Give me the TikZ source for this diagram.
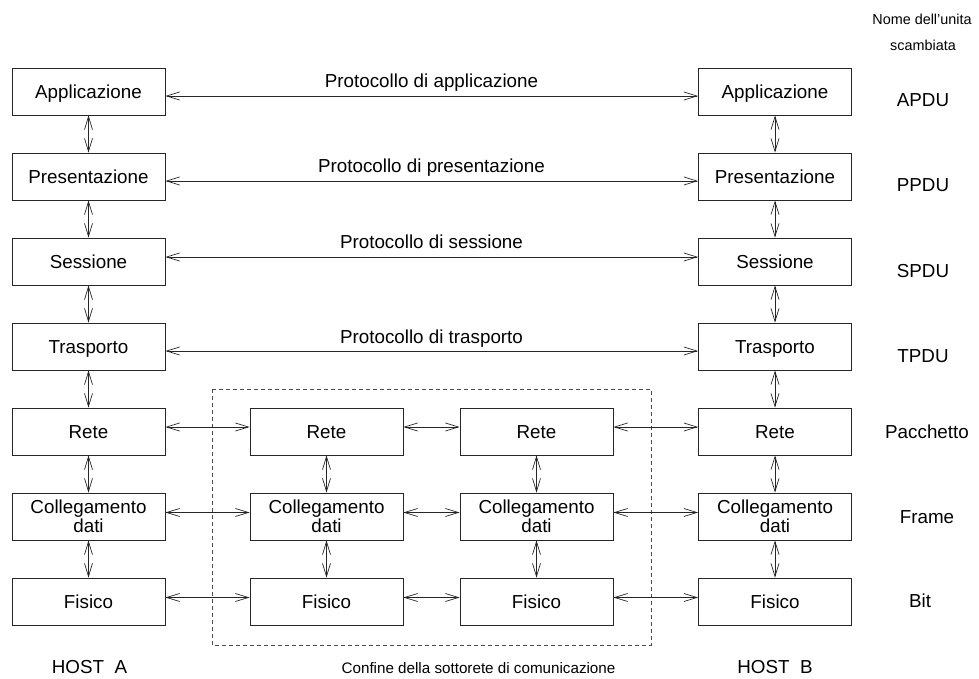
\documentclass[tikz,border=0pt]{standalone}
\usepackage{fontspec}
\setmainfont{Liberation Sans}
\usetikzlibrary{arrows.meta}
\begin{document}
\begin{tikzpicture}[x=1pt,y=-1pt,
  layer/.style={draw=black!85, line width=0.8pt, minimum width=153pt,
    minimum height=47pt, inner sep=0pt, font=\fontsize{18.8}{17.5}\selectfont,
    text height=13.5pt, text depth=0pt},
  layer2/.style={draw=black!85, line width=0.8pt, minimum width=153pt,
    minimum height=47pt, inner sep=0pt, font=\fontsize{18.8}{17.5}\selectfont,
    align=center},
  link/.style={draw=black!85, line width=0.7pt,
    {Straight Barb[length=13pt,width=8pt]}-{Straight Barb[length=13pt,width=8pt]}},
  lbl/.style={font=\fontsize{18.8}{20}\selectfont, inner sep=0pt, anchor=base},
  small/.style={font=\fontsize{14.4}{16}\selectfont, inner sep=0pt, anchor=base},
  frame/.style={draw=black!70, line width=0.7pt, dash pattern=on 4pt off 3pt}]
\useasboundingbox (0,0) rectangle (979,679);

% subnet boundary
\draw[frame] (212,389) rectangle (651,645);

% host A stack
\node[layer]  (a1) at (88.5,91.5)  {Applicazione};
\node[layer]  (a2) at (88.5,176.5) {Presentazione};
\node[layer]  (a3) at (88.5,261.5) {Sessione};
\node[layer]  (a4) at (88.5,346.5) {Trasporto};
\node[layer]  (a5) at (88.5,431.5) {Rete};
\node[layer2] (a6) at (88.5,516.5) {Collegamento\\dati};
\node[layer]  (a7) at (88.5,601.5) {Fisico};

% host B stack
\node[layer]  (b1) at (775,91.5)  {Applicazione};
\node[layer]  (b2) at (775,176.5) {Presentazione};
\node[layer]  (b3) at (775,261.5) {Sessione};
\node[layer]  (b4) at (775,346.5) {Trasporto};
\node[layer]  (b5) at (775,431.5) {Rete};
\node[layer2] (b6) at (775,516.5) {Collegamento\\dati};
\node[layer]  (b7) at (775,601.5) {Fisico};

% intermediate nodes
\node[layer]  (m5) at (326.5,431.5) {Rete};
\node[layer2] (m6) at (326.5,516.5) {Collegamento\\dati};
\node[layer]  (m7) at (326.5,601.5) {Fisico};
\node[layer]  (n5) at (536.5,431.5) {Rete};
\node[layer2] (n6) at (536.5,516.5) {Collegamento\\dati};
\node[layer]  (n7) at (536.5,601.5) {Fisico};

% vertical interfaces
\foreach \s in {a,b} {
  \draw[link] (\s1.south) -- (\s2.north);
  \draw[link] (\s2.south) -- (\s3.north);
  \draw[link] (\s3.south) -- (\s4.north);
  \draw[link] (\s4.south) -- (\s5.north);
  \draw[link] (\s5.south) -- (\s6.north);
  \draw[link] (\s6.south) -- (\s7.north);
}
\foreach \s in {m,n} {
  \draw[link] (\s5.south) -- (\s6.north);
  \draw[link] (\s6.south) -- (\s7.north);
}

% peer protocols
\draw[link] ([yshift=-4.5pt]a1.east) -- ([yshift=-4.5pt]b1.west);
\draw[link] ([yshift=-4.5pt]a2.east) -- ([yshift=-4.5pt]b2.west);
\draw[link] ([yshift=4.5pt]a3.east) -- ([yshift=4.5pt]b3.west);
\draw[link] ([yshift=-4.5pt]a4.east) -- ([yshift=-4.5pt]b4.west);

\node[lbl] (p1) at (431.5,88)  {Protocollo di applicazione};
\node[lbl] (p2) at (431.5,173) {Protocollo di presentazione};
\node[lbl] (p3) at (431.5,248.5) {Protocollo di sessione};
\node[lbl] (p4) at (431.5,343) {Protocollo di trasporto};

% hop-by-hop links
\foreach \r/\d in {5/4.5,6/4,7/4} {
  \draw[link] ([yshift=\d pt]a\r.east) -- ([yshift=\d pt]m\r.west);
  \draw[link] ([yshift=\d pt]m\r.east) -- ([yshift=\d pt]n\r.west);
  \draw[link] ([yshift=\d pt]n\r.east) -- ([yshift=\d pt]b\r.west);
}

% exchanged unit names
\node[small] (h1) at (922,25)   {Nome dell’unita};
\node[small] (h2) at (923,50.5) {scambiata};
\node[lbl] (u1) at (923,107) {APDU};
\node[lbl] (u2) at (923,192) {PPDU};
\node[lbl] (u3) at (923,277) {SPDU};
\node[lbl] (u4) at (923,362) {TPDU};
\node[lbl] (u5) at (927,438) {Pacchetto};
\node[lbl] (u6) at (927,523) {Frame};
\node[lbl] (u7) at (920,607) {Bit};

% bottom captions
\node[lbl] (ha) at (89.5,673) {HOST\ \ A};
\node[lbl] (hb) at (775,673) {HOST\ \ B};
\node[small, font=\fontsize{15.2}{17}\selectfont] (cs) at (478.5,673)
  {Confine della sottorete di comunicazione};
\end{tikzpicture}
\end{document}
